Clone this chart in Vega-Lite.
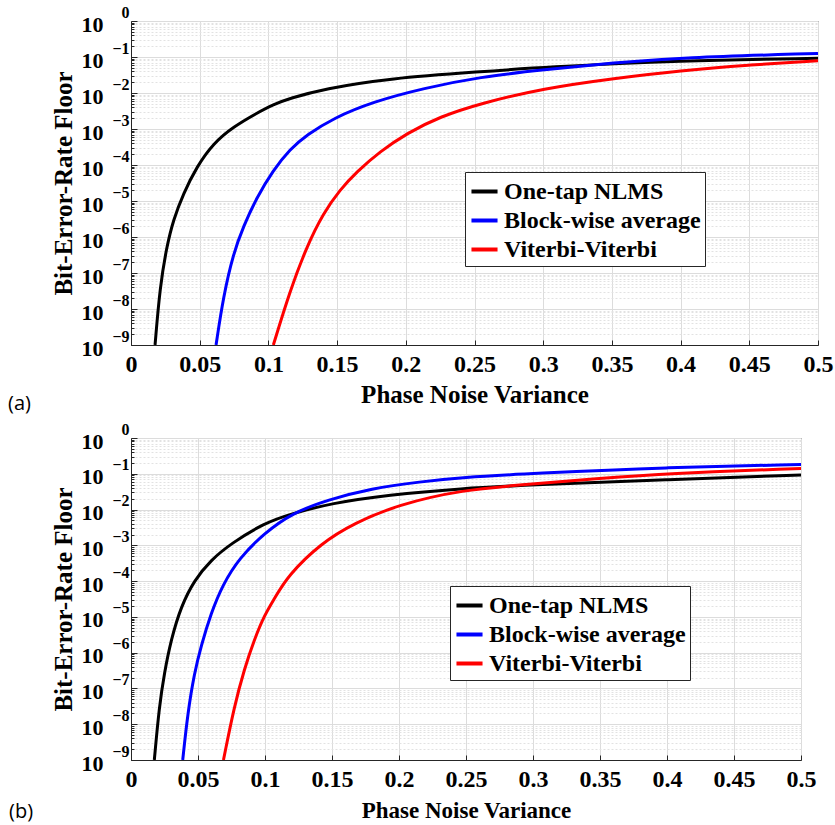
{
  "$schema": "https://vega.github.io/schema/vega-lite/v6.json",
  "autosize": {"type": "none"},
  "padding": {"left": 131, "top": 21, "right": 704, "bottom": 804},
  "background": "white",
  "spacing": 93,
  "bounds": "flush",
  "config": {
    "view": {"stroke": "#262626", "strokeWidth": 1},
    "axis": {"labelFont": "Liberation Serif, Times New Roman, serif", "titleFont": "Liberation Serif, Times New Roman, serif", "labelColor": "black", "titleColor": "black", "labelFontWeight": "bold", "titleFontWeight": "bold", "domainColor": "#262626", "tickColor": "#262626"},
    "legend": {"labelFont": "Liberation Serif, Times New Roman, serif", "labelFontWeight": "bold", "labelColor": "black", "labelLimit": 400},
    "title": {"font": "Open Sans", "fontWeight": "normal", "color": "black"}
  },
  "datasets": {
    "a": [
      {"x": 0.0175, "y": 1e-9, "s": "One-tap NLMS"},
      {"x": 0.0211, "y": 4.2e-8, "s": "One-tap NLMS"},
      {"x": 0.026, "y": 5.4e-7, "s": "One-tap NLMS"},
      {"x": 0.0308, "y": 3.0e-6, "s": "One-tap NLMS"},
      {"x": 0.0381, "y": 1.6e-5, "s": "One-tap NLMS"},
      {"x": 0.0478, "y": 8.9e-5, "s": "One-tap NLMS"},
      {"x": 0.0599, "y": 4.0e-4, "s": "One-tap NLMS"},
      {"x": 0.0745, "y": 1.15e-3, "s": "One-tap NLMS"},
      {"x": 0.0915, "y": 2.75e-3, "s": "One-tap NLMS"},
      {"x": 0.1036, "y": 4.8e-3, "s": "One-tap NLMS"},
      {"x": 0.1157, "y": 7.1e-3, "s": "One-tap NLMS"},
      {"x": 0.14, "y": 1.3e-2, "s": "One-tap NLMS"},
      {"x": 0.1885, "y": 2.57e-2, "s": "One-tap NLMS"},
      {"x": 0.254, "y": 3.9e-2, "s": "One-tap NLMS"},
      {"x": 0.3, "y": 5.2e-2, "s": "One-tap NLMS"},
      {"x": 0.4, "y": 8.0e-2, "s": "One-tap NLMS"},
      {"x": 0.5, "y": 9.2e-2, "s": "One-tap NLMS"},
      {"x": 0.0619, "y": 1e-9, "s": "Block-wise average"},
      {"x": 0.0672, "y": 2.2e-8, "s": "Block-wise average"},
      {"x": 0.0745, "y": 3.5e-7, "s": "Block-wise average"},
      {"x": 0.0818, "y": 1.95e-6, "s": "Block-wise average"},
      {"x": 0.0915, "y": 1.25e-5, "s": "Block-wise average"},
      {"x": 0.1036, "y": 7.2e-5, "s": "Block-wise average"},
      {"x": 0.1157, "y": 2.75e-4, "s": "Block-wise average"},
      {"x": 0.1279, "y": 6.8e-4, "s": "Block-wise average"},
      {"x": 0.1472, "y": 2.0e-3, "s": "Block-wise average"},
      {"x": 0.1764, "y": 5.75e-3, "s": "Block-wise average"},
      {"x": 0.2128, "y": 1.35e-2, "s": "Block-wise average"},
      {"x": 0.254, "y": 2.8e-2, "s": "Block-wise average"},
      {"x": 0.3, "y": 4.4e-2, "s": "Block-wise average"},
      {"x": 0.352, "y": 6.9e-2, "s": "Block-wise average"},
      {"x": 0.4, "y": 9.6e-2, "s": "Block-wise average"},
      {"x": 0.5, "y": 0.126, "s": "Block-wise average"},
      {"x": 0.1036, "y": 1e-9, "s": "Viterbi-Viterbi"},
      {"x": 0.1157, "y": 3.2e-8, "s": "Viterbi-Viterbi"},
      {"x": 0.1279, "y": 5.4e-7, "s": "Viterbi-Viterbi"},
      {"x": 0.14, "y": 4.6e-6, "s": "Viterbi-Viterbi"},
      {"x": 0.1521, "y": 2.05e-5, "s": "Viterbi-Viterbi"},
      {"x": 0.1643, "y": 6.5e-5, "s": "Viterbi-Viterbi"},
      {"x": 0.1812, "y": 2.35e-4, "s": "Viterbi-Viterbi"},
      {"x": 0.2006, "y": 7.6e-4, "s": "Viterbi-Viterbi"},
      {"x": 0.2249, "y": 2.2e-3, "s": "Viterbi-Viterbi"},
      {"x": 0.254, "y": 5.1e-3, "s": "Viterbi-Viterbi"},
      {"x": 0.3, "y": 1.35e-2, "s": "Viterbi-Viterbi"},
      {"x": 0.352, "y": 2.57e-2, "s": "Viterbi-Viterbi"},
      {"x": 0.4, "y": 4.2e-2, "s": "Viterbi-Viterbi"},
      {"x": 0.449, "y": 6.0e-2, "s": "Viterbi-Viterbi"},
      {"x": 0.5, "y": 7.9e-2, "s": "Viterbi-Viterbi"}
    ],
    "b": [
      {"x": 0.0174, "y": 1e-9, "s": "One-tap NLMS"},
      {"x": 0.0211, "y": 3.2e-8, "s": "One-tap NLMS"},
      {"x": 0.0249, "y": 2.7e-7, "s": "One-tap NLMS"},
      {"x": 0.0299, "y": 2.3e-6, "s": "One-tap NLMS"},
      {"x": 0.0373, "y": 1.95e-5, "s": "One-tap NLMS"},
      {"x": 0.0473, "y": 1.07e-4, "s": "One-tap NLMS"},
      {"x": 0.0597, "y": 3.9e-4, "s": "One-tap NLMS"},
      {"x": 0.0746, "y": 1.12e-3, "s": "One-tap NLMS"},
      {"x": 0.0995, "y": 4.2e-3, "s": "One-tap NLMS"},
      {"x": 0.1194, "y": 7.6e-3, "s": "One-tap NLMS"},
      {"x": 0.1493, "y": 1.5e-2, "s": "One-tap NLMS"},
      {"x": 0.1916, "y": 2.57e-2, "s": "One-tap NLMS"},
      {"x": 0.2463, "y": 3.9e-2, "s": "One-tap NLMS"},
      {"x": 0.2998, "y": 4.9e-2, "s": "One-tap NLMS"},
      {"x": 0.399, "y": 6.8e-2, "s": "One-tap NLMS"},
      {"x": 0.5, "y": 9.3e-2, "s": "One-tap NLMS"},
      {"x": 0.0386, "y": 1e-9, "s": "Block-wise average"},
      {"x": 0.0423, "y": 2.0e-8, "s": "Block-wise average"},
      {"x": 0.0473, "y": 2.7e-7, "s": "Block-wise average"},
      {"x": 0.0522, "y": 1.5e-6, "s": "Block-wise average"},
      {"x": 0.0597, "y": 1.26e-5, "s": "Block-wise average"},
      {"x": 0.0684, "y": 7.9e-5, "s": "Block-wise average"},
      {"x": 0.0808, "y": 4.4e-4, "s": "Block-wise average"},
      {"x": 0.0995, "y": 2.2e-3, "s": "Block-wise average"},
      {"x": 0.1206, "y": 8.1e-3, "s": "Block-wise average"},
      {"x": 0.1468, "y": 1.86e-2, "s": "Block-wise average"},
      {"x": 0.1791, "y": 3.9e-2, "s": "Block-wise average"},
      {"x": 0.2164, "y": 6.0e-2, "s": "Block-wise average"},
      {"x": 0.2463, "y": 7.9e-2, "s": "Block-wise average"},
      {"x": 0.2998, "y": 0.102, "s": "Block-wise average"},
      {"x": 0.399, "y": 0.151, "s": "Block-wise average"},
      {"x": 0.5, "y": 0.182, "s": "Block-wise average"},
      {"x": 0.069, "y": 1e-9, "s": "Viterbi-Viterbi"},
      {"x": 0.0771, "y": 3.2e-8, "s": "Viterbi-Viterbi"},
      {"x": 0.0846, "y": 3.5e-7, "s": "Viterbi-Viterbi"},
      {"x": 0.092, "y": 2.3e-6, "s": "Viterbi-Viterbi"},
      {"x": 0.0995, "y": 1.1e-5, "s": "Viterbi-Viterbi"},
      {"x": 0.107, "y": 3.2e-5, "s": "Viterbi-Viterbi"},
      {"x": 0.1169, "y": 1.4e-4, "s": "Viterbi-Viterbi"},
      {"x": 0.1418, "y": 1.15e-3, "s": "Viterbi-Viterbi"},
      {"x": 0.1667, "y": 4.2e-3, "s": "Viterbi-Viterbi"},
      {"x": 0.199, "y": 1.35e-2, "s": "Viterbi-Viterbi"},
      {"x": 0.2463, "y": 3.55e-2, "s": "Viterbi-Viterbi"},
      {"x": 0.2998, "y": 5.2e-2, "s": "Viterbi-Viterbi"},
      {"x": 0.3495, "y": 7.4e-2, "s": "Viterbi-Viterbi"},
      {"x": 0.399, "y": 0.102, "s": "Viterbi-Viterbi"},
      {"x": 0.5, "y": 0.141, "s": "Viterbi-Viterbi"}
    ]
  },
  "resolve": {"scale": {"color": "independent", "x": "independent", "y": "independent"}, "legend": {"color": "independent"}},
  "vconcat": [
    {
      "width": 687, "height": 324,
      "data": {"name": "a"},
      "title": {"text": "(a)", "orient": "bottom", "anchor": "start", "frame": "group", "dx": -123, "offset": -13, "fontSize": 20},
      "resolve": {"axis": {"y": "independent", "x": "independent"}},
      "layer": [
        {
          "mark": {"type": "line", "opacity": 0},
          "encoding": {
            "x": {"field": "x", "type": "quantitative", "scale": {"domain": [0, 0.5], "nice": false, "zero": false}, "axis": null},
            "y": {"field": "y", "type": "quantitative", "scale": {"type": "log", "domain": [1e-9, 1], "nice": false},
              "axis": {"orient": "left", "values": [2e-9,3e-9,4e-9,5e-9,6e-9,7e-9,8e-9,9e-9,2e-8,3e-8,4e-8,5e-8,6e-8,7e-8,8e-8,9e-8,2e-7,3e-7,4e-7,5e-7,6e-7,7e-7,8e-7,9e-7,2e-6,3e-6,4e-6,5e-6,6e-6,7e-6,8e-6,9e-6,2e-5,3e-5,4e-5,5e-5,6e-5,7e-5,8e-5,9e-5,2e-4,3e-4,4e-4,5e-4,6e-4,7e-4,8e-4,9e-4,2e-3,3e-3,4e-3,5e-3,6e-3,7e-3,8e-3,9e-3,0.02,0.03,0.04,0.05,0.06,0.07,0.08,0.09,0.2,0.3,0.4,0.5,0.6,0.7,0.8,0.9],
                "labels": false, "domain": false, "ticks": true, "tickSize": -3, "grid": true, "gridColor": "#e2e2e2", "gridDash": [2, 2], "gridWidth": 1, "title": null}}
          }
        },
        {
          "mark": {"type": "line", "opacity": 0},
          "encoding": {
            "x": {"field": "x", "type": "quantitative", "axis": null},
            "y": {"field": "y", "type": "quantitative",
              "axis": {"orient": "left", "values": [1e-9,1e-8,1e-7,1e-6,1e-5,1e-4,1e-3,1e-2,1e-1,1], "labelExpr": "'10'", "labelFontSize": 22, "labelPadding": 28, "labelOffset": 3, "labelBaseline": "middle", "domain": false, "ticks": false, "grid": false,
                "title": "Bit-Error-Rate Floor", "titleFontSize": 25, "titlePadding": 5}}
          }
        },
        {
          "mark": {"type": "line", "strokeWidth": 3, "clip": true, "interpolate": "basis"},
          "encoding": {
            "x": {"field": "x", "type": "quantitative",
              "axis": {"values": [0,0.05,0.1,0.15,0.2,0.25,0.3,0.35,0.4,0.45,0.5], "format": "~g", "labelFontSize": 24, "labelPadding": 12, "tickSize": -5, "grid": true, "gridColor": "#dcdcdc", "labelFlush": false, "title": "Phase Noise Variance", "titleFontSize": 25, "titlePadding": 6}},
            "y": {"field": "y", "type": "quantitative",
              "axis": {"orient": "left", "values": [1e-9,1e-8,1e-7,1e-6,1e-5,1e-4,1e-3,1e-2,1e-1,1], "labelExpr": "datum.value >= 1 ? '0' : '\u2212' + (-round(log(datum.value)/LN10))", "labelFontSize": 16, "labelPadding": 8, "labelOffset": -9, "labelBaseline": "middle", "tickSize": -6, "grid": true, "gridColor": "#dcdcdc", "title": null}},
            "color": {"field": "s", "type": "nominal",
              "scale": {"domain": ["One-tap NLMS", "Block-wise average", "Viterbi-Viterbi"], "range": ["#000000", "#0000ff", "#ff0000"]},
              "legend": {"orient": "none", "legendX": 334, "legendY": 151, "title": null, "fillColor": "white", "strokeColor": "#262626", "padding": 4, "symbolType": "stroke", "symbolStrokeWidth": 4, "symbolSize": 680, "labelFontSize": 24, "labelOffset": 4, "rowPadding": 1}}
          }
        }
      ]
    },
    {
      "width": 670, "height": 322,
      "data": {"name": "b"},
      "title": {"text": "(b)", "orient": "bottom", "anchor": "start", "frame": "group", "dx": -122, "offset": -20, "fontSize": 20},
      "resolve": {"axis": {"y": "independent", "x": "independent"}},
      "layer": [
        {
          "mark": {"type": "line", "opacity": 0},
          "encoding": {
            "x": {"field": "x", "type": "quantitative", "scale": {"domain": [0, 0.5], "nice": false, "zero": false}, "axis": null},
            "y": {"field": "y", "type": "quantitative", "scale": {"type": "log", "domain": [1e-9, 1], "nice": false},
              "axis": {"orient": "left", "values": [2e-9,3e-9,4e-9,5e-9,6e-9,7e-9,8e-9,9e-9,2e-8,3e-8,4e-8,5e-8,6e-8,7e-8,8e-8,9e-8,2e-7,3e-7,4e-7,5e-7,6e-7,7e-7,8e-7,9e-7,2e-6,3e-6,4e-6,5e-6,6e-6,7e-6,8e-6,9e-6,2e-5,3e-5,4e-5,5e-5,6e-5,7e-5,8e-5,9e-5,2e-4,3e-4,4e-4,5e-4,6e-4,7e-4,8e-4,9e-4,2e-3,3e-3,4e-3,5e-3,6e-3,7e-3,8e-3,9e-3,0.02,0.03,0.04,0.05,0.06,0.07,0.08,0.09,0.2,0.3,0.4,0.5,0.6,0.7,0.8,0.9],
                "labels": false, "domain": false, "ticks": true, "tickSize": -3, "grid": true, "gridColor": "#e2e2e2", "gridDash": [2, 2], "gridWidth": 1, "title": null}}
          }
        },
        {
          "mark": {"type": "line", "opacity": 0},
          "encoding": {
            "x": {"field": "x", "type": "quantitative", "axis": null},
            "y": {"field": "y", "type": "quantitative",
              "axis": {"orient": "left", "values": [1e-9,1e-8,1e-7,1e-6,1e-5,1e-4,1e-3,1e-2,1e-1,1], "labelExpr": "'10'", "labelFontSize": 22, "labelPadding": 28, "labelOffset": 3, "labelBaseline": "middle", "domain": false, "ticks": false, "grid": false,
                "title": "Bit-Error-Rate Floor", "titleFontSize": 25, "titlePadding": 5}}
          }
        },
        {
          "mark": {"type": "line", "strokeWidth": 3, "clip": true, "interpolate": "basis"},
          "encoding": {
            "x": {"field": "x", "type": "quantitative",
              "axis": {"values": [0,0.05,0.1,0.15,0.2,0.25,0.3,0.35,0.4,0.45,0.5], "format": "~g", "labelFontSize": 24, "labelPadding": 12, "tickSize": -5, "grid": true, "gridColor": "#dcdcdc", "labelFlush": false, "title": "Phase Noise Variance", "titleFontSize": 23, "titlePadding": 8}},
            "y": {"field": "y", "type": "quantitative",
              "axis": {"orient": "left", "values": [1e-9,1e-8,1e-7,1e-6,1e-5,1e-4,1e-3,1e-2,1e-1,1], "labelExpr": "datum.value >= 1 ? '0' : '\u2212' + (-round(log(datum.value)/LN10))", "labelFontSize": 16, "labelPadding": 8, "labelOffset": -9, "labelBaseline": "middle", "tickSize": -6, "grid": true, "gridColor": "#dcdcdc", "title": null}},
            "color": {"field": "s", "type": "nominal",
              "scale": {"domain": ["One-tap NLMS", "Block-wise average", "Viterbi-Viterbi"], "range": ["#000000", "#0000ff", "#ff0000"]},
              "legend": {"orient": "none", "legendX": 319, "legendY": 148, "title": null, "fillColor": "white", "strokeColor": "#262626", "padding": 4, "symbolType": "stroke", "symbolStrokeWidth": 4, "symbolSize": 680, "labelFontSize": 24, "labelOffset": 4, "rowPadding": 1}}
          }
        }
      ]
    }
  ]
}
